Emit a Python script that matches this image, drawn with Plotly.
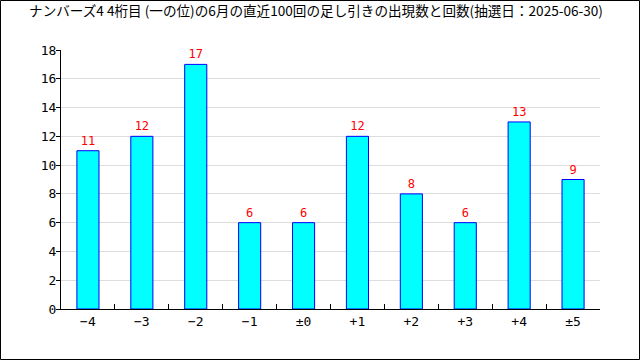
import plotly.graph_objects as go

categories = ["−4", "−3", "−2", "−1", "±0", "+1", "+2", "+3", "+4", "±5"]
counts = [11, 12, 17, 6, 6, 12, 8, 6, 13, 9]
y_ticks = [0, 2, 4, 6, 8, 10, 12, 14, 16, 18]
title = "ナンバーズ4 4桁目 (一の位)の6月の直近100回の足し引きの出現数と回数(抽選日：2025-06-30)"

L, R, T, B = 61, 40, 50, 51
W, H = 640, 360
pw, ph = W - L - R, H - T - B

fig = go.Figure(go.Bar(
    x=categories, y=counts,
    marker=dict(color="#00FFFF", line=dict(color="#0000FF", width=1)),
    width=0.41,
    text=[str(v) for v in counts], textposition="outside",
    textfont=dict(color="#FF0000", size=12, family="DejaVu Sans Mono"),
    cliponaxis=False,
))

fig.update_layout(
    width=W, height=H,
    margin=dict(l=L, r=R, t=T, b=B),
    paper_bgcolor="white", plot_bgcolor="white",
    showlegend=False,
    title=dict(text=title, x=316 / W, xref="container", xanchor="center", y=1 - 11 / H, yanchor="middle",
               font=dict(family="Noto Sans CJK JP", size=13.6, color="black")),
    xaxis=dict(type="category", showline=True, linecolor="black", linewidth=1,
               ticks="inside", tickson="boundaries", ticklen=5, tickcolor="black",
               tickfont=dict(family="DejaVu Sans Mono", size=13, color="black"),
               showgrid=False, fixedrange=True),
    yaxis=dict(range=[0, 18], tickvals=y_ticks, showline=True, linecolor="black", linewidth=1,
               ticks="outside", ticklen=4, tickcolor="black", ticklabelstandoff=-3,
               tickfont=dict(family="DejaVu Sans Mono", size=13, color="black"),
               showgrid=True, gridcolor="#DDDDDD", gridwidth=1, zeroline=False),
    bargap=0.59,
    shapes=[dict(type="rect", xref="paper", yref="paper",
                 x0=(-L + 0.5) / pw, x1=1 + (R - 0.5) / pw,
                 y0=(-B + 0.5) / ph, y1=1 + (T - 0.5) / ph,
                 line=dict(color="black", width=1), layer="above")],
)

fig.write_html("out.html", config={"displayModeBar": False},
               post_script="document.body.style.margin='0';document.body.style.padding='0';")
